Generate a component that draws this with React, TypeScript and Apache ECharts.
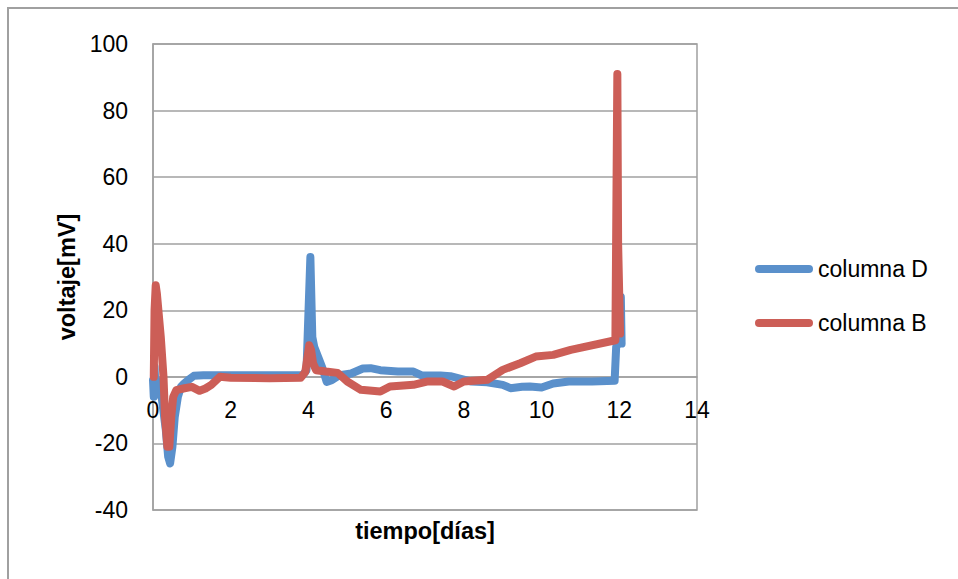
import React, { useEffect, useRef } from "react";
import * as echarts from "echarts";

const seriesNames = ["columna D", "columna B"];

const timeD = [0, 0.02, 0.04, 0.06, 0.1, 0.2, 0.33, 0.39, 0.44, 0.5, 0.56, 0.64, 0.72, 0.8, 0.9, 1.05, 1.3, 2.0, 3.0, 3.85, 3.95, 4.05, 4.1, 4.15, 4.25, 4.35, 4.47, 4.6, 4.8, 5.1, 5.4, 5.6, 5.85, 6.3, 6.7, 6.9, 7.4, 7.65, 8.2, 8.6, 9.0, 9.2, 9.5, 9.7, 10.0, 10.3, 10.7, 11.3, 11.88, 11.92, 11.98, 12.04, 12.06];
const valueD = [-1, -6, 3, -2, -1, -4, -16, -24, -26, -21, -12, -6, -3, -2, -1, 0.3, 0.5, 0.5, 0.5, 0.5, 2, 36, 12, 9, 6, 3, -1.5, -1, 0.5, 1, 2.5, 2.6, 2, 1.6, 1.6, 0.5, 0.4, 0.2, -1.4, -1.6, -2.4, -3.4, -3, -2.9, -3.2, -2, -1.4, -1.4, -1.2, 9, 10, 24, 10];

const timeB = [0.02, 0.04, 0.07, 0.1, 0.2, 0.27, 0.31, 0.37, 0.42, 0.47, 0.52, 0.6, 0.78, 1.0, 1.2, 1.35, 1.5, 1.72, 2.0, 3.0, 3.8, 3.92, 4.02, 4.07, 4.12, 4.2, 4.45, 4.75, 5.0, 5.35, 5.85, 6.1, 6.7, 7.05, 7.45, 7.75, 8.0, 8.6, 9.0, 9.45, 9.85, 10.3, 10.75, 11.9, 11.95, 11.97, 12.02];
const valueB = [0, 20, 27.5, 25, 12, 0, -12, -21, -21, -12, -6, -4, -3.5, -3, -4.2, -3.5, -2.4, 0, -0.3, -0.4, -0.3, 1.5, 9.5, 8, 4, 2, 1.6, 1.2, -1.4, -3.9, -4.4, -2.9, -2.4, -1.4, -1.4, -2.9, -1.4, -0.9, 2.1, 4.1, 6.1, 6.6, 8.1, 11, 91, 40, 13];

const xTicks = { min: 0, max: 14, interval: 2 };
const yTicks = { min: -40, max: 100, interval: 20 };

const FONT = "Liberation Sans";
const GRAY = "#a0a0a0";
const GRID_H = 466;

export default function App() {
  const ref = useRef<HTMLDivElement>(null);
  useEffect(() => {
    document.body.style.margin = "0";
    const chart = echarts.init(ref.current!, null, { renderer: "svg" });
    const dataD = timeD.map((t, i) => [t, valueD[i]]);
    const dataB = timeB.map((t, i) => [t, valueB[i]]);
    const capsule = "path://M4,0 H54 A4,4 0 0 1 54,8 H4 A4,4 0 0 1 4,0 Z";
    // shift x axis up to the y = 0 level
    const zeroOffset = -(GRID_H * (0 - yTicks.min)) / (yTicks.max - yTicks.min);
    chart.setOption({
      animation: false,
      backgroundColor: "#ffffff",
      color: ["#5a90cb", "#cc5e57"],
      graphic: [
        {
          type: "rect",
          z: -10,
          shape: { x: 8, y: 8, width: 1400, height: 1000 },
          style: { fill: "none", stroke: GRAY, lineWidth: 2 },
        },
      ],
      grid: {
        left: 153,
        top: 44,
        width: 544,
        height: GRID_H,
        containLabel: false,
        outerBoundsMode: "none",
        show: true,
        borderColor: GRAY,
        borderWidth: 1.5,
        backgroundColor: "transparent",
      },
      legend: {
        orient: "vertical",
        left: 750,
        top: 252,
        itemWidth: 58,
        itemHeight: 8,
        itemGap: 30,
        icon: capsule,
        textStyle: { fontFamily: FONT, fontSize: 23, color: "#000", lineHeight: 24 },
        data: seriesNames,
      },
      xAxis: {
        type: "value",
        min: xTicks.min,
        max: xTicks.max,
        interval: xTicks.interval,
        offset: zeroOffset,
        name: "tiempo[días]",
        nameLocation: "middle",
        nameGap: 142,
        nameTextStyle: { fontFamily: FONT, fontSize: 23.5, fontWeight: "bold", color: "#000" },
        axisLine: { show: true, onZero: false, lineStyle: { color: GRAY, width: 1.5 } },
        axisTick: { show: false },
        splitLine: { show: false },
        axisLabel: { fontFamily: FONT, fontSize: 23, color: "#000", margin: 22 },
      },
      yAxis: {
        type: "value",
        min: yTicks.min,
        max: yTicks.max,
        interval: yTicks.interval,
        name: "voltaje[mV]",
        nameLocation: "middle",
        nameGap: 72,
        nameRotate: 90,
        nameTextStyle: { fontFamily: FONT, fontSize: 23.5, fontWeight: "bold", color: "#000" },
        axisLine: { show: true, lineStyle: { color: GRAY, width: 1.5 } },
        axisTick: { show: false },
        splitLine: { show: true, lineStyle: { color: GRAY, width: 1.5 } },
        axisLabel: { fontFamily: FONT, fontSize: 23, color: "#000", margin: 25 },
      },
      series: [
        {
          name: seriesNames[0],
          type: "line",
          data: dataD,
          showSymbol: false,
          symbol: "none",
          lineStyle: { width: 8, cap: "round", join: "round" },
        },
        {
          name: seriesNames[1],
          type: "line",
          data: dataB,
          showSymbol: false,
          symbol: "none",
          lineStyle: { width: 8, cap: "round", join: "round" },
        },
      ],
    });
    return () => chart.dispose();
  }, []);
  return <div ref={ref} style={{ position: "absolute", left: 0, top: 0, width: 958, height: 579 }} />;
}
